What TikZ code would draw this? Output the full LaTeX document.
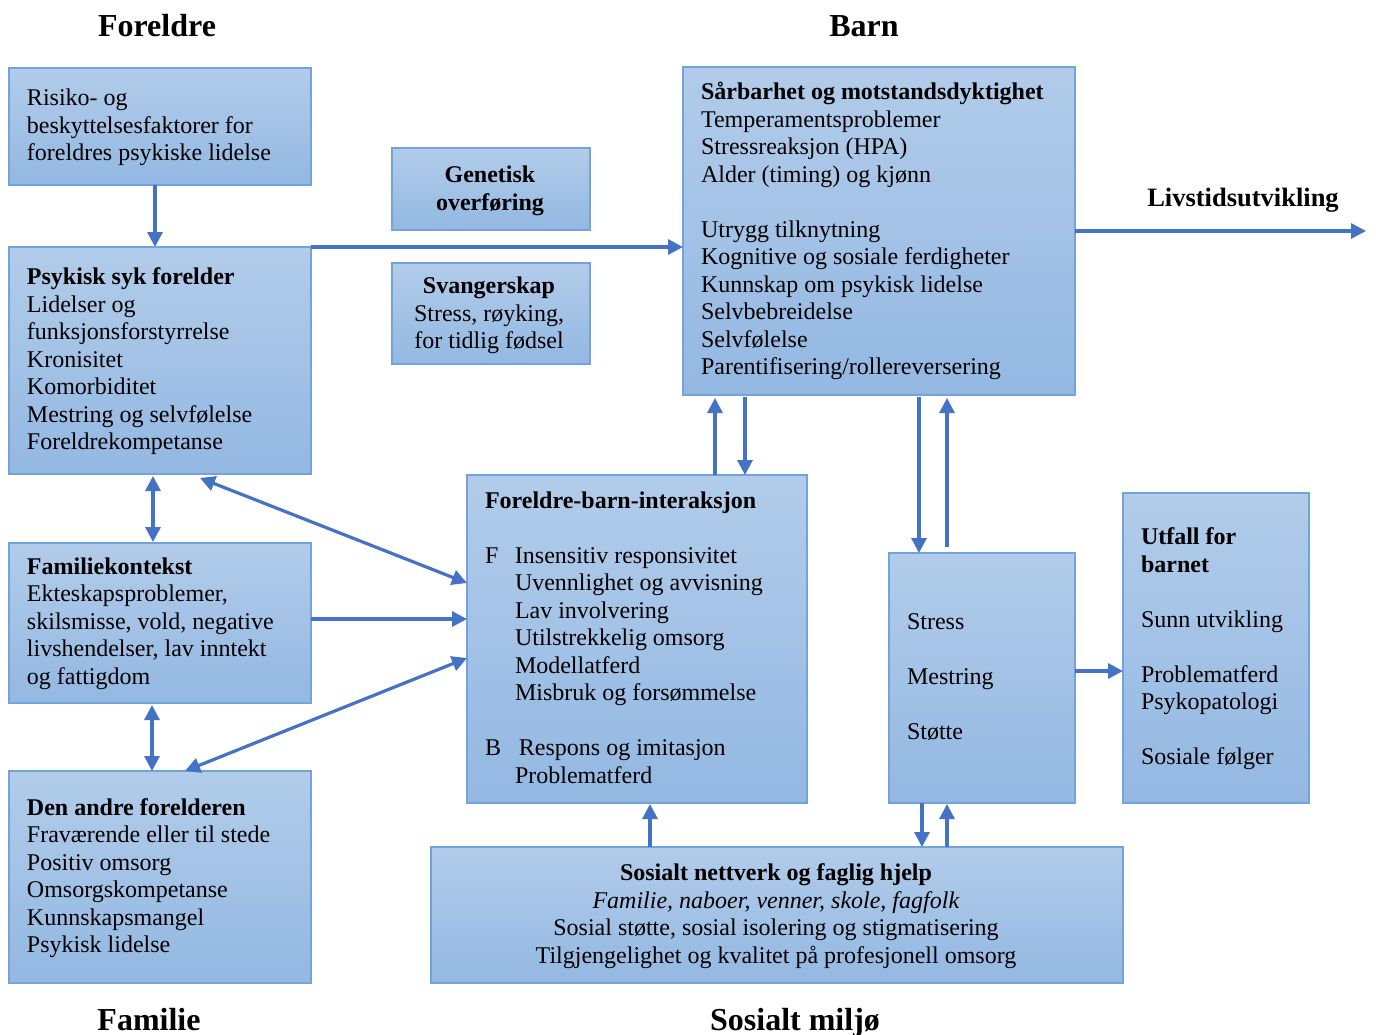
\documentclass[tikz,border=0pt]{standalone}
\usepackage{fontspec}
\setmainfont{Liberation Serif}
\usetikzlibrary{arrows.meta,calc}
\definecolor{boxtop}{HTML}{B2CCEA}
\definecolor{boxbot}{HTML}{93B8E2}
\definecolor{boxline}{HTML}{74A2DA}
\definecolor{arrcol}{HTML}{4472C4}
\tikzset{
  box/.style={rectangle, draw=boxline, line width=1.5pt, top color=boxtop, bottom color=boxbot, inner sep=0pt, outer sep=0pt, anchor=north west},
  txt/.style={anchor=north west, inner sep=0pt, outer sep=0pt, align=left, font=\fontsize{24}{27.5}\selectfont},
  ctxt/.style={anchor=north, inner sep=0pt, outer sep=0pt, align=center, font=\fontsize{24}{27.5}\selectfont},
  title/.style={anchor=base, inner sep=0pt, font=\fontsize{32}{36}\selectfont\bfseries},
  arr/.style={draw=arrcol, line width=3.2pt, -{Triangle[length=15pt,width=15pt]}},
  darr/.style={draw=arrcol, line width=3.2pt, {Triangle[length=15pt,width=15pt]}-{Triangle[length=15pt,width=15pt]}},
}
\begin{document}
\begin{tikzpicture}[x=1pt,y=-1pt]
\useasboundingbox (0,0) rectangle (1376,1034);
% titles
\node[title] (tforeldre) at (157,36) {Foreldre};
\node[title] (tbarn) at (864,36) {Barn};
\node[title] (tfamilie) at (149,1030) {Familie};
\node[title] (tsosial) at (795,1030) {Sosialt miljø};
\node[anchor=base, inner sep=0pt, font=\fontsize{26.5}{30}\selectfont\bfseries] (tliv) at (1243,206) {Livstidsutvikling};
% boxes
\node[box, minimum width=302pt, minimum height=117pt] (risiko) at (9,68) {};
\node[box, minimum width=198pt, minimum height=82pt] (genetisk) at (392,148) {};
\node[box, minimum width=198pt, minimum height=101pt] (svang) at (392,263) {};
\node[box, minimum width=302pt, minimum height=227pt] (psyk) at (9,247) {};
\node[box, minimum width=392pt, minimum height=328pt] (sarb) at (683,67) {};
\node[box, minimum width=302pt, minimum height=160pt] (fam) at (9,543) {};
\node[box, minimum width=340pt, minimum height=328pt] (fbi) at (467,475) {};
\node[box, minimum width=186pt, minimum height=250pt] (stress) at (889,553) {};
\node[box, minimum width=186pt, minimum height=310pt] (utfall) at (1123,493) {};
\node[box, minimum width=302pt, minimum height=212pt] (andre) at (9,771) {};
\node[box, minimum width=692pt, minimum height=136pt] (sosial) at (431,847) {};
% texts
\node[txt] (trisiko) at (27,86.5) {\strut Risiko- og\\beskyttelsesfaktorer for\\foreldres psykiske lidelse};
\node[ctxt] (tgenetisk) at (490,163.5) {\strut\textbf{Genetisk}\\\textbf{overføring}};
\node[ctxt] (tsvang) at (489,274.5) {\strut\textbf{Svangerskap}\\Stress, røyking,\\for tidlig fødsel};
\node[txt] (tpsyk) at (27,265.5) {\strut\textbf{Psykisk syk forelder}\\Lidelser og\\funksjonsforstyrrelse\\Kronisitet\\Komorbiditet\\Mestring og selvfølelse\\Foreldrekompetanse};
\node[txt] (tsarb) at (701,80.5) {\strut\textbf{Sårbarhet og motstandsdyktighet}\\Temperamentsproblemer\\Stressreaksjon (HPA)\\Alder (timing) og kjønn\\[27.5pt]Utrygg tilknytning\\Kognitive og sosiale ferdigheter\\Kunnskap om psykisk lidelse\\Selvbebreidelse\\Selvfølelse\\Parentifisering/rollereversering};
\node[txt] (tfam) at (27,555) {\strut\textbf{Familiekontekst}\\Ekteskapsproblemer,\\skilsmisse, vold, negative\\livshendelser, lav inntekt\\og fattigdom};
\node[txt] (tandre) at (27,796) {\strut\textbf{Den andre forelderen}\\Fraværende eller til stede\\Positiv omsorg\\Omsorgskompetanse\\Kunnskapsmangel\\Psykisk lidelse};
\node[txt] (tfbi) at (485,488.75) {\strut\textbf{Foreldre-barn-interaksjon}\\[27.5pt]\makebox[30pt][l]{F}Insensitiv responsivitet\\\hspace*{30pt}Uvennlighet og avvisning\\\hspace*{30pt}Lav involvering\\\hspace*{30pt}Utilstrekkelig omsorg\\\hspace*{30pt}Modellatferd\\\hspace*{30pt}Misbruk og forsømmelse\\[27.5pt]\makebox[34pt][l]{B}Respons og imitasjon\\\hspace*{30pt}Problematferd};
\node[txt] (tstress) at (907,610.5) {\strut Stress\\[27.5pt]Mestring\\[27.5pt]Støtte};
\node[txt] (tutfall) at (1141,525.5) {\strut\textbf{Utfall for}\\\textbf{barnet}\\[27.5pt]Sunn utvikling\\[27.5pt]Problematferd\\Psykopatologi\\[27.5pt]Sosiale følger};
\node[ctxt] (tsosialbox) at (776,861.5) {\strut\textbf{Sosialt nettverk og faglig hjelp}\\\textit{Familie, naboer, venner, skole, fagfolk}\\Sosial støtte, sosial isolering og stigmatisering\\Tilgjengelighet og kvalitet på profesjonell omsorg};
% connectors
\coordinate (livend) at (1366,230);
\draw[arr] ([xshift=146pt]risiko.south west) -- ([xshift=146pt]psyk.north west);
\draw[arr] (psyk.north east) -- (psyk.north east -| sarb.west);
\draw[arr] (sarb.east) -- (sarb.east -| livend);
\draw[darr] ([xshift=144pt,yshift=-2pt]psyk.south west) -- ([xshift=144pt,yshift=1pt]fam.north west);
\draw[darr] ([xshift=191pt,yshift=-4pt]psyk.south west) -- ([yshift=-108pt]fbi.north west);
\draw[arr] ([yshift=4pt]fam.east) -- ([yshift=4pt]fam.east -| fbi.west);
\draw[darr] ([yshift=-183pt]fbi.north west) -- ([xshift=176pt]andre.north west);
\draw[darr] ([xshift=143pt,yshift=-2pt]fam.south west) -- ([xshift=143pt]andre.north west);
\draw[arr] ([xshift=248pt]fbi.north west) -- ([xshift=248pt,yshift=-3pt]fbi.north west |- sarb.south);
\draw[arr] ([xshift=278pt,yshift=-2pt]fbi.north west |- sarb.south) -- ([xshift=278pt]fbi.north west);
\draw[arr] ([xshift=30pt,yshift=-2pt]stress.north west |- sarb.south) -- ([xshift=30pt]stress.north west);
\draw[arr] ([xshift=58pt,yshift=6pt]stress.north west) -- ([xshift=58pt,yshift=-3pt]stress.north west |- sarb.south);
\draw[arr] ([yshift=7pt]stress.east) -- ([yshift=7pt]stress.east -| utfall.west);
\draw[arr] ([xshift=183pt]fbi.south west |- sosial.north) -- ([xshift=183pt,yshift=-1pt]fbi.south west);
\draw[arr] ([xshift=33pt]stress.south west) -- ([xshift=33pt]stress.south west |- sosial.north);
\draw[arr] ([xshift=58pt]stress.south west |- sosial.north) -- ([xshift=58pt,yshift=-1pt]stress.south west);
\end{tikzpicture}
\end{document}
